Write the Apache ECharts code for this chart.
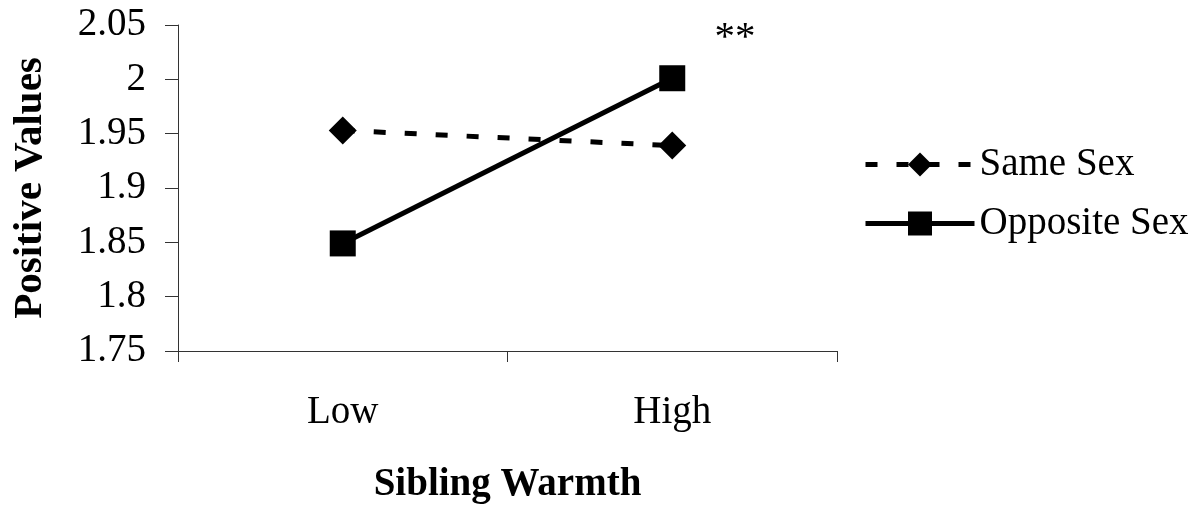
<!DOCTYPE html>
<html>
<head>
<meta charset="utf-8">
<script src="https://cdn.jsdelivr.net/npm/echarts@6/dist/echarts.min.js"></script>
<style>
html,body{margin:0;padding:0;background:#fff;}
#c{width:1196px;height:510px;}
</style>
</head>
<body>
<div id="c"></div>
<script>
const categories = ['Low', 'High'];
const sameSex = [1.953, 1.939];
const oppositeSex = [1.849, 2.001];
const yTicks = { min: 1.75, max: 2.05, interval: 0.05 };
const annotation = '**';

const FONT = '"Liberation Serif", "Times New Roman", serif';
const chart = echarts.init(document.getElementById('c'), null, {renderer: 'canvas'});
chart.setOption({
  backgroundColor: '#fff',
  animation: false,
  grid: { left: 178, right: 359, top: 25, bottom: 159, containLabel: false },
  xAxis: {
    type: 'category',
    data: categories,
    boundaryGap: true,
    name: 'Sibling Warmth',
    nameLocation: 'middle',
    nameGap: 114,
    nameTextStyle: { fontFamily: FONT, fontSize: 39, fontWeight: 'bold', color: '#000', lineHeight: 40, verticalAlign: 'top' },
    axisLine: { lineStyle: { color: '#333', width: 1 } },
    axisTick: { show: true, length: 11, inside: false, lineStyle: { color: '#333' } },
    axisLabel: { fontFamily: FONT, fontSize: 39, color: '#000', margin: 42, lineHeight: 40, verticalAlign: 'top' },
    splitLine: { show: false }
  },
  yAxis: {
    type: 'value',
    min: yTicks.min,
    max: yTicks.max,
    interval: yTicks.interval,
    name: 'Positive Values',
    nameLocation: 'middle',
    nameGap: 128,
    nameRotate: 90,
    nameTextStyle: { fontFamily: FONT, fontSize: 41, fontWeight: 'bold', color: '#000', lineHeight: 40 },
    axisLine: { show: true, lineStyle: { color: '#333', width: 1 } },
    axisTick: { show: true, length: 13, inside: false, lineStyle: { color: '#333' } },
    axisLabel: {
      fontFamily: FONT, fontSize: 39, color: '#000', margin: 32,
      formatter: function (v) { return String(parseFloat(v.toFixed(2))); }
    },
    splitLine: { show: false }
  },
  legend: {
    orient: 'vertical',
    left: 858,
    top: 140,
    itemWidth: 109,
    itemHeight: 30,
    itemGap: 20,
    lineStyle: { width: 5 },
    textStyle: { fontFamily: FONT, fontSize: 39, color: '#000' },
    data: ['Same Sex', 'Opposite Sex']
  },
  series: [
    {
      name: 'Same Sex',
      type: 'line',
      data: sameSex,
      symbol: 'diamond',
      symbolSize: [28, 28],
      itemStyle: { color: '#000' },
      lineStyle: { color: '#000', width: 5, type: [12, 19] }
    },
    {
      name: 'Opposite Sex',
      type: 'line',
      data: oppositeSex,
      symbol: 'rect',
      symbolSize: 26,
      itemStyle: { color: '#000' },
      lineStyle: { color: '#000', width: 5, type: 'solid' }
    }
  ],
  graphic: [
    {
      type: 'text',
      x: 735,
      y: 38,
      style: { text: annotation, font: '41px ' + FONT, fill: '#000', align: 'center', verticalAlign: 'middle' }
    }
  ]
});
</script>
</body>
</html>
